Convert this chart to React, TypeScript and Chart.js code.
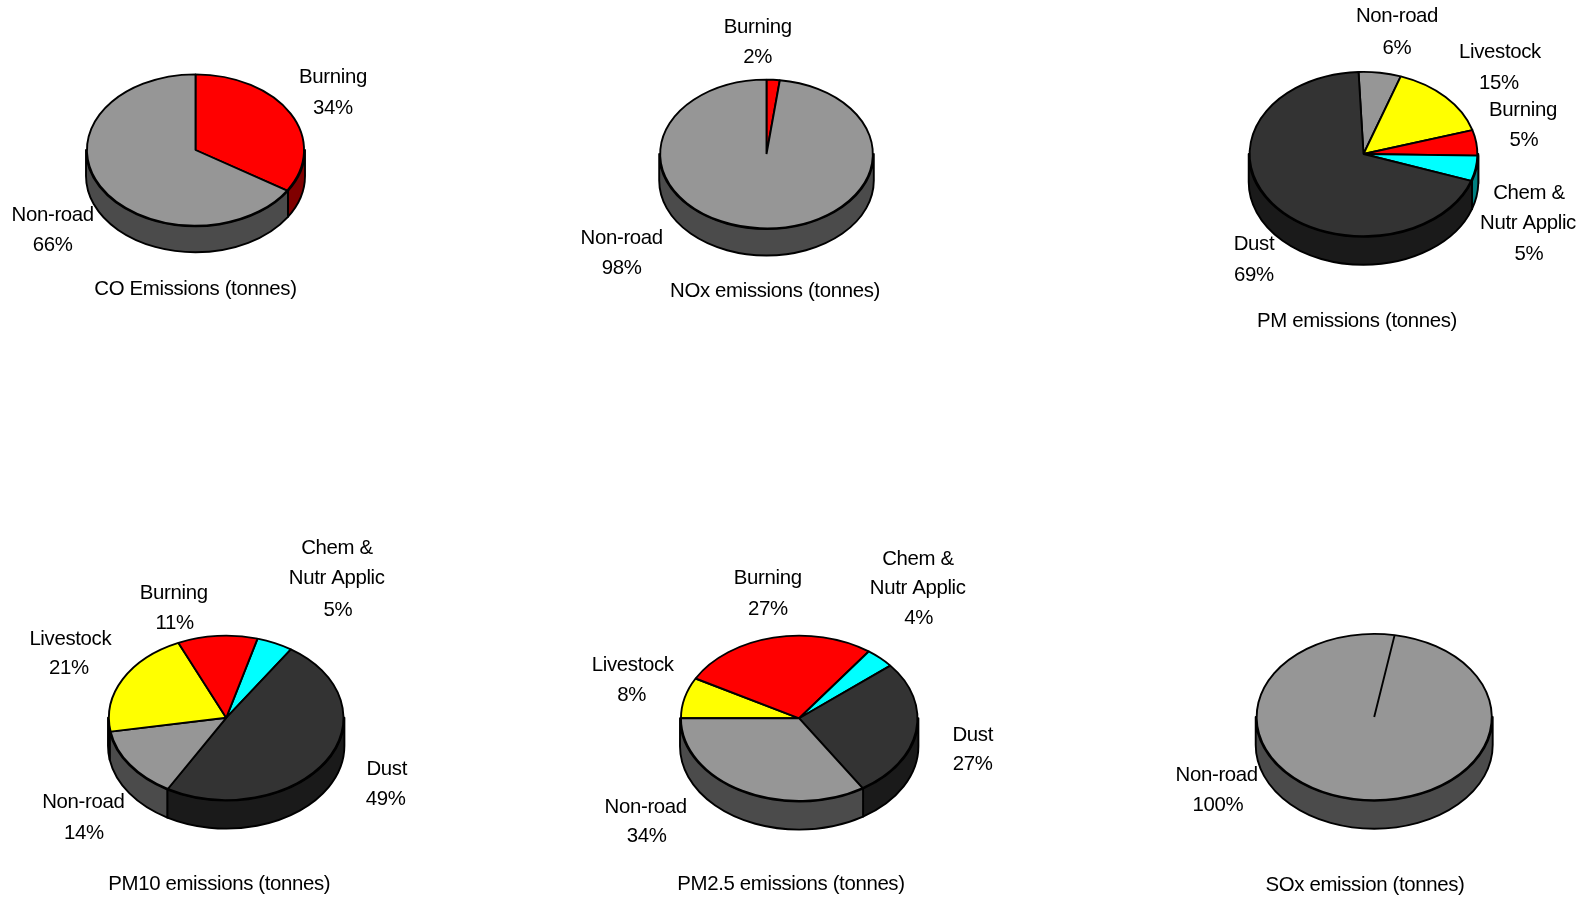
import React, { useEffect, useRef } from "react";
import { Chart, registerables } from "chart.js";

Chart.register(...registerables);

const PAGE_W = 1583;
const PAGE_H = 899;
const FONT = '20.4px "Liberation Sans", Arial, sans-serif';
const TEXT_TRACKING = "-0.35px";
const TEXT_DROP = 1;
const OUTLINE = 1.9;

// Sector colours: top face and shaded side wall
const faceColors: Record<string, string> = {
  "Non-road": "#969696",
  Burning: "#ff0000",
  Livestock: "#ffff00",
  "Chem & Nutr Applic": "#00ffff",
  Dust: "#333333",
};
const wallColors: Record<string, string> = {
  "Non-road": "#4b4b4b",
  Burning: "#800000",
  Livestock: "#808000",
  "Chem & Nutr Applic": "#008080",
  Dust: "#1a1a1a",
};

// Emission shares per pollutant, in percent, clockwise from each pie's start angle
const coCategories = ["Burning", "Non-road"];
const coValues = [34, 66];
const noxCategories = ["Burning", "Non-road"];
const noxValues = [2, 98];
const pmCategories = ["Non-road", "Livestock", "Burning", "Chem & Nutr Applic", "Dust"];
const pmValues = [6, 15, 5, 5, 69];
const pm10Categories = ["Chem & Nutr Applic", "Dust", "Non-road", "Livestock", "Burning"];
const pm10Values = [5, 49, 14, 21, 11];
const pm25Categories = ["Livestock", "Burning", "Chem & Nutr Applic", "Dust", "Non-road"];
const pm25Values = [8, 27, 4, 27, 34];
const soxCategories = ["Non-road"];
const soxValues = [100];

type Spot = [number, number][]; // centre of each text line of a label, page coordinates

interface PieSpec {
  title: string;
  titleAt: [number, number];
  categories: string[];
  values: number[];
  rotation: number;
  cx: number;
  cy: number;
  rx: number;
  ry: number;
  depth: number;
  labelSpots: Spot[];
}

const pies: PieSpec[] = [
  {
    title: "CO Emissions (tonnes)",
    titleAt: [195.5, 288],
    categories: coCategories,
    values: coValues,
    rotation: 0,
    cx: 195.5, cy: 150, rx: 109.5, ry: 76.3, depth: 26,
    labelSpots: [
      [[333, 76], [333, 107]],
      [[52.7, 214], [52.7, 244]],
    ],
  },
  {
    title: "NOx emissions (tonnes)",
    titleAt: [775, 290],
    categories: noxCategories,
    values: noxValues,
    rotation: 0,
    cx: 766.5, cy: 154, rx: 107.3, ry: 75, depth: 26.5,
    labelSpots: [
      [[757.7, 26], [757.7, 56.7]],
      [[621.7, 237], [621.7, 267]],
    ],
  },
  {
    title: "PM emissions (tonnes)",
    titleAt: [1357, 320],
    categories: pmCategories,
    values: pmValues,
    rotation: -2.5,
    cx: 1363.5, cy: 154, rx: 114.8, ry: 82.8, depth: 28,
    labelSpots: [
      [[1397, 15.3], [1397, 47]],
      [[1500, 51.7], [1499, 82]],
      [[1523, 109], [1524, 139]],
      [[1529, 192], [1528, 222], [1529, 253]],
      [[1254, 243], [1254, 274]],
    ],
  },
  {
    title: "PM10 emissions (tonnes)",
    titleAt: [219.3, 883],
    categories: pm10Categories,
    values: pm10Values,
    rotation: 15.5,
    cx: 226.2, cy: 717.8, rx: 118.2, ry: 82.8, depth: 28,
    labelSpots: [
      [[337, 547.7], [336.7, 577.7], [338, 609]],
      [[386.7, 768], [385.7, 798]],
      [[83.3, 801.7], [84, 832.7]],
      [[70.3, 638], [69, 667]],
      [[173.7, 592.7], [174.7, 622.3]],
    ],
  },
  {
    title: "PM2.5 emissions (tonnes)",
    titleAt: [791, 883],
    categories: pm25Categories,
    values: pm25Values,
    rotation: 270,
    cx: 799.2, cy: 718.3, rx: 119.2, ry: 83.3, depth: 28,
    labelSpots: [
      [[632.7, 664.3], [631.7, 694.3]],
      [[767.7, 577.7], [768, 608]],
      [[918, 558], [917.7, 587.7], [918.7, 617.7]],
      [[972.7, 734], [972.7, 763]],
      [[645.7, 806.7], [646.7, 835]],
    ],
  },
  {
    title: "SOx emission (tonnes)",
    titleAt: [1365, 884],
    categories: soxCategories,
    values: soxValues,
    rotation: 10,
    cx: 1374.2, cy: 717, rx: 118.5, ry: 83.8, depth: 28,
    labelSpots: [[[1216.7, 774.3], [1218, 804.3]]],
  },
];

// The two-line slice name is split before "Nutr Applic"
const labelLines = (category: string, value: number) => {
  const name = category === "Chem & Nutr Applic" ? ["Chem &", "Nutr Applic"] : [category];
  return [...name, `${value}%`];
};

// Tilts the flat pie into an ellipse, adds the side wall below it and writes the labels.
const tiltedPiePlugin = (spec: PieSpec) => ({
  id: "tiltedPie",
  beforeDatasetsDraw(chart: any) {
    const ctx = chart.ctx;
    const arcs = chart.getDatasetMeta(0).data;
    const { cx, cy, rx, ry, depth, categories } = spec;
    const TAU = Math.PI * 2;

    ctx.save();
    ctx.lineWidth = OUTLINE;
    ctx.strokeStyle = "#000";
    ctx.lineJoin = "round";
    arcs.forEach((arc: any, i: number) => {
      for (let k = -2; k <= 2; k++) {
        const from = Math.max(arc.startAngle, k * TAU);
        const to = Math.min(arc.endAngle, k * TAU + Math.PI);
        if (to <= from) continue;
        ctx.beginPath();
        ctx.ellipse(cx, cy, rx, ry, 0, from, to);
        ctx.ellipse(cx, cy + depth, rx, ry, 0, to, from, true);
        ctx.closePath();
        ctx.fillStyle = wallColors[categories[i]];
        ctx.fill();
        ctx.stroke();
      }
    });
    ctx.restore();

    // Paths are built squashed, strokes are applied untransformed to keep an even line width
    ctx.save();
    ctx.translate(cx, cy);
    ctx.scale(1, ry / rx);
    ctx.translate(-cx, -cy);
    const nativeStroke = ctx.stroke;
    ctx.stroke = function () {
      ctx.save();
      ctx.setTransform(1, 0, 0, 1, 0, 0);
      nativeStroke.call(ctx);
      ctx.restore();
    };
  },
  afterDatasetsDraw(chart: any) {
    const ctx = chart.ctx;
    delete ctx.stroke;
    ctx.restore();
  },
  afterDraw(chart: any) {
    const ctx = chart.ctx;
    ctx.save();
    ctx.font = FONT;
    ctx.letterSpacing = TEXT_TRACKING;
    ctx.fillStyle = "#000";
    ctx.textAlign = "center";
    ctx.textBaseline = "middle";
    spec.categories.forEach((category, i) => {
      labelLines(category, spec.values[i]).forEach((line, j) => {
        const [x, y] = spec.labelSpots[i][j];
        ctx.fillText(line, x, y + TEXT_DROP);
      });
    });
    ctx.fillText(spec.title, spec.titleAt[0], spec.titleAt[1] + TEXT_DROP);
    ctx.restore();
  },
});

function Pie({ spec }: { spec: PieSpec }) {
  const ref = useRef<HTMLCanvasElement | null>(null);
  useEffect(() => {
    const chart = new Chart(ref.current as HTMLCanvasElement, {
      type: "pie",
      data: {
        labels: spec.categories,
        datasets: [
          {
            data: spec.values,
            backgroundColor: spec.categories.map((c) => faceColors[c]),
            borderColor: "#000",
            borderWidth: OUTLINE,
            clip: false,
          } as any,
        ],
      },
      options: {
        animation: false,
        responsive: false,
        rotation: spec.rotation,
        layout: {
          padding: {
            left: spec.cx - spec.rx,
            right: PAGE_W - spec.cx - spec.rx,
            top: spec.cy - spec.rx,
            bottom: PAGE_H - spec.cy - spec.rx,
          },
        },
        plugins: {
          legend: { display: false },
          title: { display: false },
          tooltip: { enabled: false },
        },
      },
      plugins: [tiltedPiePlugin(spec)],
    });
    return () => chart.destroy();
  }, [spec]);
  return (
    <canvas
      ref={ref}
      width={PAGE_W}
      height={PAGE_H}
      style={{ position: "absolute", left: 0, top: 0, width: PAGE_W, height: PAGE_H }}
    />
  );
}

export default function App() {
  return (
    <div
      style={{
        position: "absolute",
        left: 0,
        top: 0,
        width: PAGE_W,
        height: PAGE_H,
        overflow: "hidden",
        background: "#fff",
      }}
    >
      {pies.map((spec) => (
        <Pie key={spec.title} spec={spec} />
      ))}
    </div>
  );
}
